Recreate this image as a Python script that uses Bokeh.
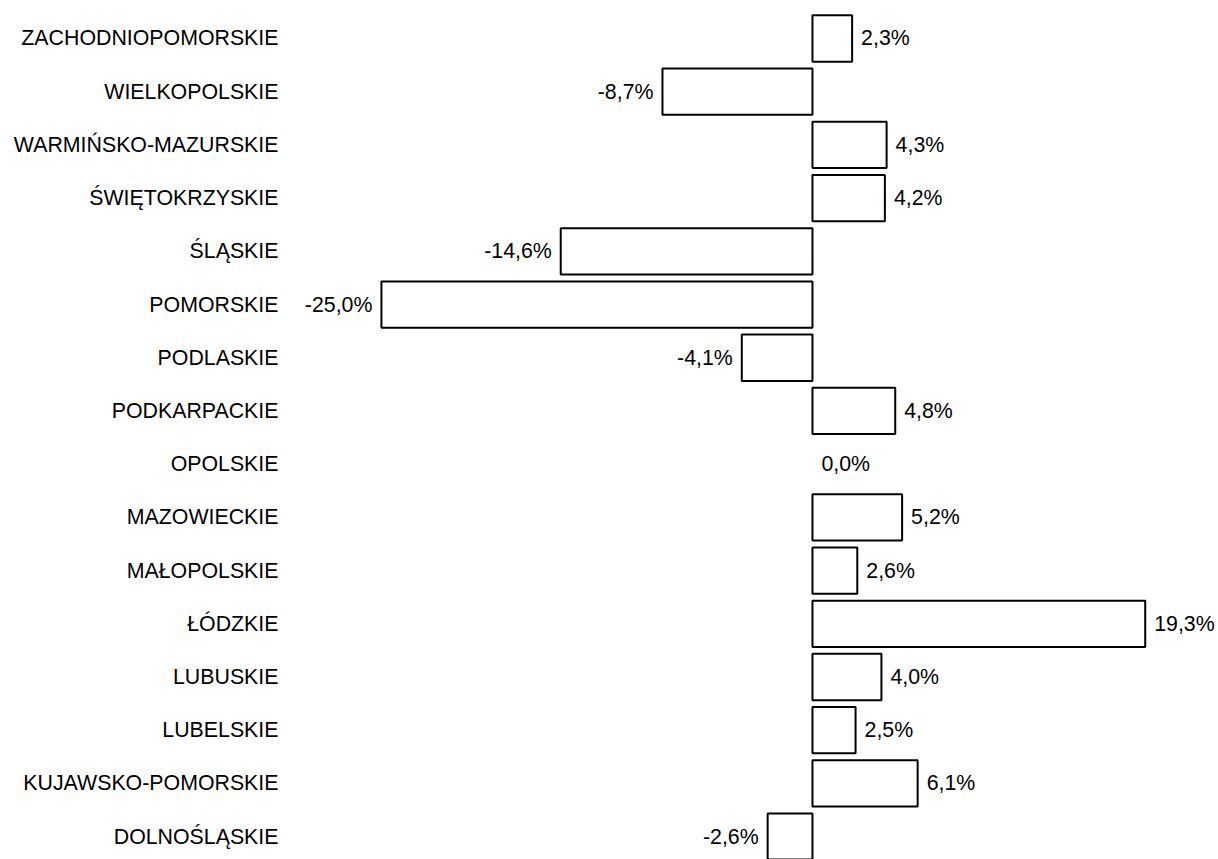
from bokeh.plotting import figure
from bokeh.models import ColumnDataSource, Range1d, FixedTicker
from bokeh.core.properties import value
from bokeh.embed import file_html
from bokeh.resources import INLINE

# Data (top to bottom as displayed)
regions = [
    "ZACHODNIOPOMORSKIE", "WIELKOPOLSKIE", "WARMIŃSKO-MAZURSKIE", "ŚWIĘTOKRZYSKIE",
    "ŚLĄSKIE", "POMORSKIE", "PODLASKIE", "PODKARPACKIE", "OPOLSKIE", "MAZOWIECKIE",
    "MAŁOPOLSKIE", "ŁÓDZKIE", "LUBUSKIE", "LUBELSKIE", "KUJAWSKO-POMORSKIE", "DOLNOŚLĄSKIE",
]
changes = [2.3, -8.7, 4.3, 4.2, -14.6, -25.0, -4.1, 4.8, 0.0, 5.2, 2.6, 19.3, 4.0, 2.5, 6.1, -2.6]

FONT = "Liberation Sans"
FS = "16pt"

pos = list(range(len(regions)))
labels = [f"{v:.1f}%".replace(".", ",") for v in changes]

bars = ColumnDataSource(dict(
    y=pos, right=changes,
    la=[1.0 if v != 0 else 0.0 for v in changes],
))
pos_src = ColumnDataSource(dict(
    x=[v for v in changes if v >= 0],
    y=[i for i, v in zip(pos, changes) if v >= 0],
    t=[l for l, v in zip(labels, changes) if v >= 0],
))
neg_src = ColumnDataSource(dict(
    x=[v for v in changes if v < 0],
    y=[i for i, v in zip(pos, changes) if v < 0],
    t=[l for l, v in zip(labels, changes) if v < 0],
))

p = figure(
    width=1218, height=859,
    x_range=Range1d(-30.39, 23.55),
    y_range=Range1d(15.43, -0.714),
    x_axis_location=None,
    output_backend="svg", toolbar_location=None,
    min_border_left=288, min_border_right=0, min_border_top=0, min_border_bottom=0,
)
p.outline_line_color = None
p.grid.visible = False

p.hbar(y="y", left=0, right="right", height=0.87, source=bars,
       fill_color="white", line_color="black", line_width=2, line_alpha="la")

p.text(x="x", y="y", text="t", source=pos_src, x_offset=9,
       text_align="left", text_baseline="middle",
       text_font=value(FONT), text_font_size=FS, text_color="black")
p.text(x="x", y="y", text="t", source=neg_src, x_offset=-9,
       text_align="right", text_baseline="middle",
       text_font=value(FONT), text_font_size=FS, text_color="black")

ax = p.yaxis[0]
ax.ticker = FixedTicker(ticks=pos)
ax.major_label_overrides = {i: r for i, r in zip(pos, regions)}
ax.axis_line_color = None
ax.major_tick_line_color = None
ax.minor_tick_line_color = None
ax.major_tick_out = 0
ax.major_tick_in = 0
ax.major_label_standoff = 10
ax.major_label_text_font = FONT
ax.major_label_text_font_size = FS
ax.major_label_text_color = "black"

open("out.html", "w").write(file_html(p, INLINE))
